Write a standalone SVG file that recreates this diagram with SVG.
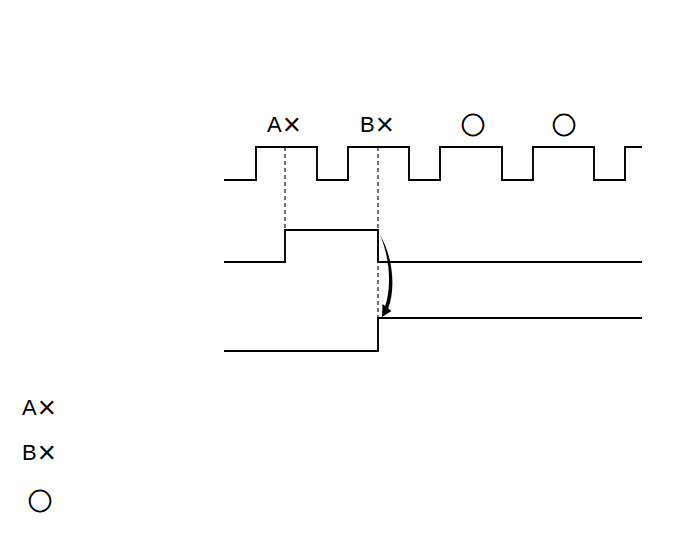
<svg xmlns="http://www.w3.org/2000/svg" width="688" height="560" viewBox="0 0 688 560">
<style>
.sig{fill:none;stroke:#000;stroke-width:1.9;stroke-linejoin:miter}
.dash{fill:none;stroke:#000;stroke-width:1.1;stroke-dasharray:4 3}
.lbl{font-family:"Liberation Sans","Noto Sans CJK JP",sans-serif;font-size:22px;fill:#000}
.x{font-size:31px}
.sym{font-family:"Noto Sans CJK JP",sans-serif;font-size:24px;fill:#000;stroke:#000;stroke-width:0.9}
</style>
<rect width="688" height="560" fill="#fff"/>
<g id="clock">
<path class="sig" d="M224,180 H256 V147 H317 V180 H348 V147 H409 V180 H440 V147 H502 V180 H533 V147 H594 V180 H625 V147 H642"/>
<text class="lbl" x="267" y="132">A<tspan class="x" dx="1" dy="3">×</tspan></text>
<text class="lbl" x="360" y="132">B<tspan class="x" dx="1" dy="3">×</tspan></text>
<text class="sym" x="473" y="134" text-anchor="middle">○</text>
<text class="sym" x="564" y="134" text-anchor="middle">○</text>
</g>
<g id="signal2">
<path class="sig" d="M224,262 H285 V230 H378 V262 H642"/>
</g>
<g id="signal3">
<path class="sig" d="M224,351 H378 V318 H642"/>
</g>
<g id="connectors">
<path class="dash" d="M285,147 V230"/>
<path class="dash" d="M378,147 V318"/>
<path d="M380,235 C393,257 396,288 388,309 L384.5,308 C392,288 390,258 380,235 Z" fill="#000"/>
<polygon points="382,317 382.5,304 391.5,311" fill="#000"/>
</g>
<g id="legend">
<text class="lbl" x="22" y="415">A<tspan class="x" dx="1" dy="3">×</tspan></text>
<text class="lbl" x="22" y="460">B<tspan class="x" dx="1" dy="3">×</tspan></text>
<text class="sym" x="40" y="510" text-anchor="middle">○</text>
</g>
</svg>
